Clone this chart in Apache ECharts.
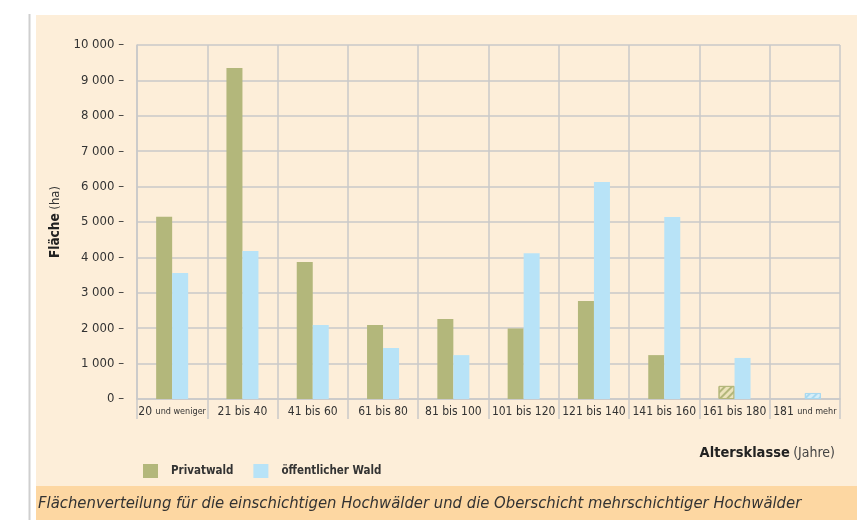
<!DOCTYPE html>
<html>
<head>
<meta charset="utf-8">
<script src="https://cdn.jsdelivr.net/npm/echarts@6/dist/echarts.min.js"></script>
<style>
  html, body { margin: 0; padding: 0; background: #fff; }
  #chart { width: 857px; height: 520px; }
</style>
</head>
<body>
<div id="chart"></div>
<script>
// Flächenverteilung nach Altersklassen
const categories = ['20 und weniger', '21 bis 40', '41 bis 60', '61 bis 80', '81 bis 100',
    '101 bis 120', '121 bis 140', '141 bis 160', '161 bis 180', '181 und mehr'];
const privatwald = [5150, 9350, 3870, 2090, 2260, 1990, 2770, 1240, 370, null];
const oeffentlich = [3560, 4180, 2090, 1440, 1240, 4120, 6130, 5140, 1160, 170];
// schraffierte (unsichere) Werte
const hatchPrivat = [8];
const hatchOeff = [9];
const yTicks = [0, 10000, 1000];

const FONT = '"Liberation Sans Narrow", "DejaVu Sans Condensed", sans-serif';
const GREEN = '#b3b77b';
const BLUE = '#b8e3f7';
const GRID = '#c9c9c9';

function buildData(values, hatched, color, light) {
    return values.map(function(v, i) {
        if (hatched.indexOf(i) < 0) return v;
        return {
            value: v,
            itemStyle: {
                color: light,
                borderColor: color,
                borderWidth: 1,
                decal: {
                    symbol: 'rect',
                    color: color,
                    dashArrayX: [1, 0],
                    dashArrayY: [2, 3],
                    rotation: -Math.PI / 4
                }
            }
        };
    });
}

function fmtThousand(v) {
    if (v < 1000) return String(v);
    const k = Math.floor(v / 1000);
    const r = String(v % 1000).padStart(3, '0');
    return k + ' ' + r;
}

const chart = echarts.init(document.getElementById('chart'));

const option = {
    backgroundColor: '#fff',
    textStyle: { fontFamily: FONT },
    animation: false,
    graphic: [
        { type: 'line', z: -20, shape: { x1: 29.5, y1: 14, x2: 29.5, y2: 520 },
          style: { stroke: '#cfcfcf', lineWidth: 2 } },
        { type: 'rect', z: -20, shape: { x: 36, y: 15, width: 821, height: 471 },
          style: { fill: '#fdeed9' } },
        { type: 'rect', z: -20, shape: { x: 36, y: 486, width: 821, height: 34 },
          style: { fill: '#fdd7a2' } },
        { type: 'text', left: 38, top: 495,
          style: { text: 'Flächenverteilung für die einschichtigen Hochwälder und die Oberschicht mehrschichtiger Hochwälder',
                   font: 'italic 16.5px ' + FONT, fill: '#333' } },
        { type: 'text', right: 22, top: 446,
          style: { rich: { b: { fontWeight: 'bold', fontSize: 14.5, fontFamily: FONT, fill: '#222' },
                           n: { fontSize: 14, fontFamily: FONT, fill: '#444' } },
                   text: '{b|Altersklasse} {n|(Jahre)}' } }
    ],
    legend: {
        left: 138,
        top: 459,
        itemWidth: 15,
        itemHeight: 14,
        itemGap: 20,
        icon: 'rect',
        data: ['Privatwald', 'öffentlicher Wald'],
        textStyle: { fontFamily: FONT, fontSize: 11.5, fontWeight: 'bold', color: '#333',
                     padding: [0, 0, 0, 8] }
    },
    grid: { left: 137, right: 17, top: 45, bottom: 121 },
    xAxis: {
        type: 'category',
        data: categories,
        axisLine: { lineStyle: { color: GRID, width: 1.5 } },
        axisTick: { show: true, length: 20, interval: 0, lineStyle: { color: GRID, width: 1.5 } },
        splitLine: { show: true, interval: 0, lineStyle: { color: GRID, width: 1.5 } },
        axisLabel: {
            interval: 0,
            margin: 7,
            color: '#333',
            fontFamily: FONT,
            fontSize: 12,
            formatter: function(v) {
                const p = v.indexOf(' und ');
                if (p < 0) return v;
                return v.slice(0, p) + ' {s|' + v.slice(p + 1) + '}';
            },
            rich: { s: { fontSize: 9, fontFamily: FONT, color: '#333' } }
        }
    },
    yAxis: {
        type: 'value',
        min: yTicks[0],
        max: yTicks[1],
        interval: yTicks[2],
        name: '{b|Fläche} (ha)',
        nameLocation: 'middle',
        nameRotate: 90,
        nameGap: 72,
        nameTextStyle: {
            fontFamily: FONT, fontSize: 13, color: '#333',
            rich: { b: { fontWeight: 'bold', fontSize: 13.5, fontFamily: FONT, color: '#222' } }
        },
        axisLine: { show: true, lineStyle: { color: GRID, width: 1.5 } },
        axisTick: { show: false },
        splitLine: { lineStyle: { color: GRID, width: 1.5 } },
        axisLabel: {
            margin: 13,
            color: '#333',
            fontFamily: FONT,
            fontSize: 13,
            formatter: function(v) { return fmtThousand(v) + ' –'; }
        }
    },
    series: [
        {
            name: 'Privatwald',
            type: 'bar',
            barWidth: 16,
            barGap: '0%',
            itemStyle: { color: GREEN },
            data: buildData(privatwald, hatchPrivat, GREEN, '#ece3bb')
        },
        {
            name: 'öffentlicher Wald',
            type: 'bar',
            barWidth: 16,
            barGap: '0%',
            itemStyle: { color: BLUE },
            data: buildData(oeffentlich, hatchOeff, '#a9d9f0', '#d6eef8')
        }
    ]
};

chart.setOption(option);

window.addEventListener('resize', function() {
    chart.resize();
});
</script>
</body>
</html>
